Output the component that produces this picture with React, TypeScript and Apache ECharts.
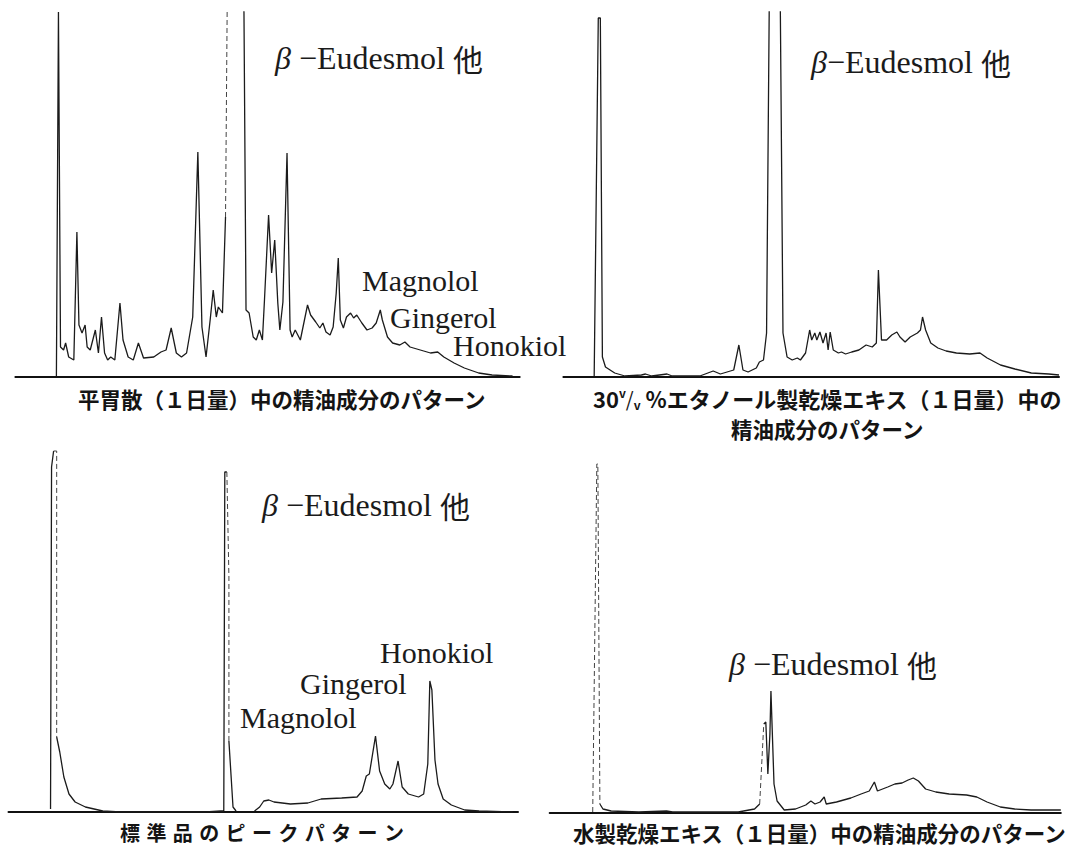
import React, { useEffect, useRef } from "react";
import * as echarts from "echarts";

// ---- Data: [retention (chart units), detector response (chart units)] ----
// Panel 1: 平胃散（１日量）
const p1Points: [number, number][] = [
  [40, 1], [42, 365], [44, 30], [47, 27], [49, 34], [52, 20], [57, 17], [60, 145], [62, 52], [65, 44],
  [68, 52], [70, 30], [73, 27], [78, 47], [81, 24], [84, 60], [87, 24], [90, 17], [93, 20], [97, 17],
  [102, 74], [105, 37], [110, 20], [115, 17], [120, 34], [125, 19], [135, 20], [142, 25], [147, 27], [152, 49],
  [157, 24], [162, 20], [167, 24], [173, 60], [178, 225], [182, 50], [186, 20], [190, 57], [193, 87], [196, 60],
  [198, 70], [202, 64], [205, 160], [207, 420], [222, 420], [223, 364], [225, 67], [228, 64], [232, 40], [235, 37],
  [238, 47], [241, 37], [243, 77], [247, 162], [250, 104], [253, 137], [256, 74], [258, 47], [261, 75], [265, 224],
  [268, 47], [270, 40], [273, 47], [278, 37], [282, 57], [285, 72], [288, 62], [293, 55], [297, 49], [300, 54],
  [303, 45], [307, 42], [310, 50], [313, 84], [315, 119], [317, 57], [320, 49], [323, 60], [327, 64], [330, 59],
  [333, 62], [338, 54], [343, 47], [348, 49], [352, 54], [356, 67], [358, 57], [363, 40], [368, 34], [375, 32],
  [380, 35], [385, 30], [395, 27], [405, 24], [412, 25], [418, 20], [428, 14], [438, 9], [452, 4], [465, 2], [485, 1]
];
const p1Dashed: [number, number][] = [[205, 207]];

// Panel 2: 30 v/v % エタノール製乾燥エキス
const p2Points: [number, number][] = [
  [30, 1], [34, 359], [36, 359], [38, 20], [41, 10], [50, 4], [60, 1], [76, 2], [80, 3], [86, 1],
  [101, 3], [106, 1], [133, 1], [146, 6], [153, 3], [166, 7], [171, 32], [175, 7], [180, 5], [188, 9],
  [191, 15], [195, 17], [198, 44], [201, 420], [211, 420], [214, 44], [218, 20], [223, 17], [228, 19], [231, 17],
  [236, 24], [240, 47], [242, 37], [245, 44], [247, 37], [250, 45], [253, 34], [256, 44], [258, 27], [260, 45],
  [263, 27], [268, 24], [271, 25], [275, 23], [281, 25], [288, 27], [295, 32], [301, 30], [305, 34], [307, 107],
  [310, 37], [315, 37], [320, 42], [325, 45], [328, 40], [333, 35], [338, 40], [345, 44], [348, 47], [350, 60],
  [353, 47], [358, 34], [365, 29], [373, 26], [383, 24], [396, 23], [406, 24], [413, 19], [426, 12], [440, 8],
  [456, 4], [473, 3], [483, 2]
];

// Panel 3: 標準品
const p3Points: [number, number][] = [
  [41, 3], [42, 345], [44, 361], [47, 361], [47, 75], [50, 60], [54, 35], [59, 18], [65, 10], [75, 5],
  [92, 1], [109, 0], [192, 0], [207, 1], [210, 1], [211, 340], [213, 340], [215, 235], [215, 71], [219, 5],
  [222, 1], [240, 1], [245, 5], [249, 11], [254, 12], [259, 10], [275, 8], [292, 9], [305, 13], [325, 14],
  [340, 15], [345, 21], [349, 36], [352, 38], [358, 76], [362, 41], [367, 28], [372, 23], [375, 28], [380, 51],
  [384, 25], [390, 18], [400, 15], [405, 18], [409, 48], [411, 131], [413, 122], [416, 52], [419, 28], [424, 13],
  [432, 7], [445, 2], [459, 1], [492, 0]
];
const p3Dashed: [number, number][] = [[44, 47], [213, 215]];
const p3Gaps: [number, number][] = [[222, 240]];

// Panel 4: 水製乾燥エキス
const p4Points: [number, number][] = [
  [42, 1], [46, 349], [47, 349], [49, 9], [52, 4], [60, 2], [87, 1], [114, 2], [120, 1], [184, 1],
  [200, 4], [205, 9], [209, 89], [211, 91], [213, 39], [215, 79], [216, 122], [219, 29], [222, 12], [229, 3],
  [240, 4], [250, 8], [255, 12], [259, 9], [264, 11], [268, 16], [270, 9], [280, 11], [294, 15], [304, 19],
  [312, 22], [317, 31], [320, 22], [330, 26], [337, 29], [344, 30], [350, 33], [355, 35], [360, 32], [367, 24],
  [377, 21], [390, 19], [407, 18], [417, 16], [427, 11], [440, 6], [454, 4], [470, 3], [499, 3]
];
const p4Dashed: [number, number][] = [[42, 49], [205, 209]];

const xMax = [492, 483, 497, 499];
const yMax = [365, 365, 362, 363];

const peakName = "Eudesmol";
const compoundLabels = ["Magnolol", "Gingerol", "Honokiol"];
const caption1 = "平胃散（１日量）中の精油成分のパターン";
const caption2a = "%エタノール製乾燥エキス（１日量）中の";
const caption2b = "精油成分のパターン";
const caption3 = "標準品のピークパターン";
const caption4 = "水製乾燥エキス（１日量）中の精油成分のパターン";

type Pt = [number, number | string];

function splitTrace(points: [number, number][], dashed: [number, number][] = [], gaps: [number, number][] = []) {
  const solid: Pt[] = [];
  const dash: Pt[] = [];
  const inR = (a: number, b: number, rs: [number, number][]) => rs.some(([lo, hi]) => a >= lo && b <= hi);
  for (let i = 0; i < points.length - 1; i++) {
    const a = points[i];
    const b = points[i + 1];
    const kind = inR(a[0], b[0], gaps) ? "gap" : inR(a[0], b[0], dashed) ? "dash" : "solid";
    const target = kind === "solid" ? solid : kind === "dash" ? dash : null;
    if (!target) continue;
    const last = target[target.length - 1];
    if (last !== a) {
      if (last) target.push([a[0], "-"]);
      target.push(a);
    }
    target.push(b);
  }
  return { solid, dash };
}

const SERIF = "Liberation Serif";
const GOTHIC = "Noto Sans CJK JP";
const INK = "#1b1b1b";

function labelText(text: string, x: number, y: number, size = 30) {
  return {
    type: "text",
    x,
    y,
    silent: true,
    style: { text, fontSize: size, fontFamily: SERIF, fill: INK, align: "left", verticalAlign: "middle" },
  };
}

function peakText(x: number, y: number, spaced: boolean) {
  const base = { fontSize: 32, fontFamily: SERIF, fill: INK };
  return {
    type: "text",
    x,
    y,
    silent: true,
    style: {
      text: `{g|β}{t|${spaced ? " " : ""}−${peakName} }{c|他}`,
      fontSize: 32,
      fontFamily: SERIF,
      fill: INK,
      align: "left",
      verticalAlign: "middle",
      rich: {
        g: { ...base, fontStyle: "italic" },
        t: { ...base },
        c: { fontSize: 30, fontFamily: GOTHIC, fill: INK },
      },
    },
  };
}

function captionText(text: string, x: number, y: number, size = 21.5) {
  return {
    type: "text",
    x,
    y,
    silent: true,
    style: { text, fontSize: size, fontFamily: GOTHIC, fontWeight: "bold", fill: "#141414", align: "left", verticalAlign: "middle" },
  };
}

export default function App() {
  const ref = useRef<HTMLDivElement>(null);

  useEffect(() => {
    if (!ref.current) return;
    const chart = echarts.init(ref.current, undefined, { renderer: "svg" });

    const grids = [
      { left: 15.4, top: 12, width: 504.3, height: 365 },
      { left: 563.4, top: 12, width: 495.6, height: 365 },
      { left: 8.5, top: 450, width: 509.5, height: 362 },
      { left: 549.7, top: 450, width: 511.1, height: 363 },
    ];

    const traces = [
      splitTrace(p1Points, p1Dashed),
      splitTrace(p2Points),
      splitTrace(p3Points, p3Dashed, p3Gaps),
      splitTrace(p4Points, p4Dashed),
    ];

    const series: any[] = [];
    traces.forEach((t, i) => {
      series.push({
        type: "line",
        xAxisIndex: i,
        yAxisIndex: i,
        data: t.solid,
        showSymbol: false,
        symbol: "none",
        connectNulls: false,
        clip: true,
        silent: true,
        lineStyle: { color: INK, width: 1.3 },
      });
      if (t.dash.length) {
        series.push({
          type: "line",
          xAxisIndex: i,
          yAxisIndex: i,
          data: t.dash,
          showSymbol: false,
          symbol: "none",
          connectNulls: false,
          clip: true,
          silent: true,
          lineStyle: { color: "#444", width: 1, type: [5, 3] },
        });
      }
    });

    const capFill = "#141414";
    const v2 = {
      type: "text",
      x: 593,
      y: 398,
      silent: true,
      style: {
        text: "{n|30}{s|v}{sl|/}{b|v}{n| " + caption2a + "}",
        fontFamily: GOTHIC,
        fontWeight: "bold",
        fill: capFill,
        align: "left",
        verticalAlign: "middle",
        rich: {
          n: { fontSize: 22, lineHeight: 24, fontFamily: GOTHIC, fontWeight: "bold", fill: capFill },
          s: { fontSize: 12, lineHeight: 24, fontFamily: GOTHIC, fontWeight: "bold", fill: capFill, verticalAlign: "top" },
          sl: { fontSize: 20, lineHeight: 24, fontFamily: GOTHIC, fill: capFill },
          b: { fontSize: 12, lineHeight: 24, fontFamily: GOTHIC, fontWeight: "bold", fill: capFill, verticalAlign: "bottom" },
        },
      },
    };

    const cap3Chars = caption3.split("").map((ch, i) => captionText(ch, 120 + i * 26.4, 832, 20));

    chart.setOption({
      animation: false,
      backgroundColor: "#ffffff",
      grid: grids,
      xAxis: grids.map((_, i) => ({
        type: "value",
        gridIndex: i,
        min: 0,
        max: xMax[i],
        axisLine: { show: true, lineStyle: { color: "#111", width: 2 } },
        axisTick: { show: false },
        axisLabel: { show: false },
        splitLine: { show: false },
      })),
      yAxis: grids.map((_, i) => ({
        type: "value",
        gridIndex: i,
        min: 0,
        max: yMax[i],
        show: false,
        splitLine: { show: false },
      })),
      series,
      graphic: [
        peakText(275, 58, true),
        labelText(compoundLabels[0], 362, 280),
        labelText(compoundLabels[1], 390, 317),
        labelText(compoundLabels[2], 453, 345),
        peakText(811, 62, false),
        peakText(262, 505, true),
        labelText(compoundLabels[2], 380, 652),
        labelText(compoundLabels[1], 300, 683),
        labelText(compoundLabels[0], 240, 717),
        peakText(729, 664, true),
        captionText(caption1, 78, 398),
        v2,
        captionText(caption2b, 731, 428),
        ...cap3Chars,
        captionText(caption4, 573, 832),
      ],
    });

    return () => chart.dispose();
  }, []);

  return (
    <div
      ref={ref}
      style={{ position: "fixed", left: 0, top: 0, width: 1072, height: 848, background: "#fff" }}
    />
  );
}
